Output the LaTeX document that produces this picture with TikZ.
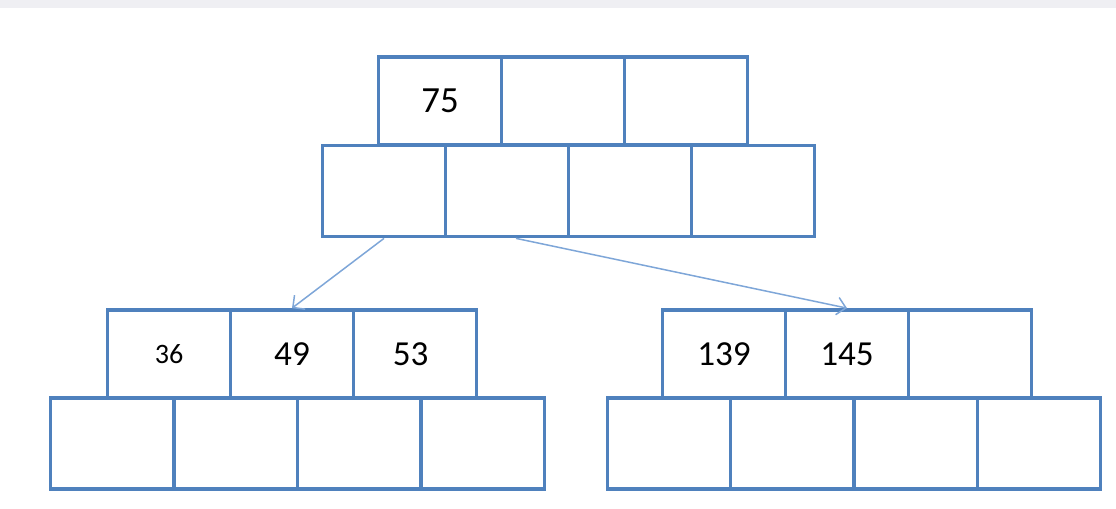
\documentclass[tikz,border=0pt]{standalone}
\usepackage{fontspec}
\setmainfont{Carlito}
\usetikzlibrary{arrows.meta}

\definecolor{boxblue}{HTML}{4F81BD}
\definecolor{linkblue}{HTML}{7EA6D8}
\definecolor{bandgray}{HTML}{EFEFF3}

\tikzset{
    keycell/.style={rectangle, draw=boxblue, line width=0.075cm, inner sep=0pt,
        minimum width=2.46cm, minimum height=1.76cm, font=\fontsize{20}{24}\selectfont},
    ptrcell/.style={keycell, minimum height=1.82cm},
    link/.style={draw=linkblue, line width=0.03cm, -{Straight Barb[length=5pt,width=10pt]}}
}

\begin{document}
\begin{tikzpicture}[x=0.02cm, y=-0.02cm]
    \useasboundingbox (0,0) rectangle (1116,508);
    \fill[bandgray] (0,0) rectangle (1116,8);
    % root
    \path node[keycell, font=\fontsize{21}{25}\selectfont] (t-k1) at (440,101) {75}
        node[keycell] (t-k2) at (563,101) {}
        node[keycell] (t-k3) at (686,101) {}
        node[ptrcell] (t-p1) at (384,191) {}
        node[ptrcell] (t-p2) at (507,191) {}
        node[ptrcell] (t-p3) at (630,191) {}
        node[ptrcell] (t-p4) at (753,191) {};
    % left child
    \path node[keycell, font=\fontsize{16}{19}\selectfont] (l-k1) at (169,354) {36}
        node[keycell] (l-k2) at (292,354) {\raisebox{-3pt}{49}}
        node[keycell] (l-k3) at (415,354) {\hspace*{-5pt}53}
        node[ptrcell] (l-p1) at (112,443.5) {}
        node[ptrcell] (l-p2) at (236,443.5) {}
        node[ptrcell] (l-p3) at (359,443.5) {}
        node[ptrcell] (l-p4) at (483,443.5) {};
    % right child
    \path node[keycell] (r-k1) at (724,354) {139}
        node[keycell] (r-k2) at (847,354) {145}
        node[keycell] (r-k3) at (970,354) {}
        node[ptrcell] (r-p1) at (669,443.5) {}
        node[ptrcell] (r-p2) at (792,443.5) {}
        node[ptrcell] (r-p3) at (916,443.5) {}
        node[ptrcell] (r-p4) at (1039,443.5) {};
    \draw[link] (t-p1.south) -- (l-k2.north);
    \draw[link] ([xshift=0.18cm]t-p2.south) -- (r-k2.north);
\end{tikzpicture}
\end{document}
